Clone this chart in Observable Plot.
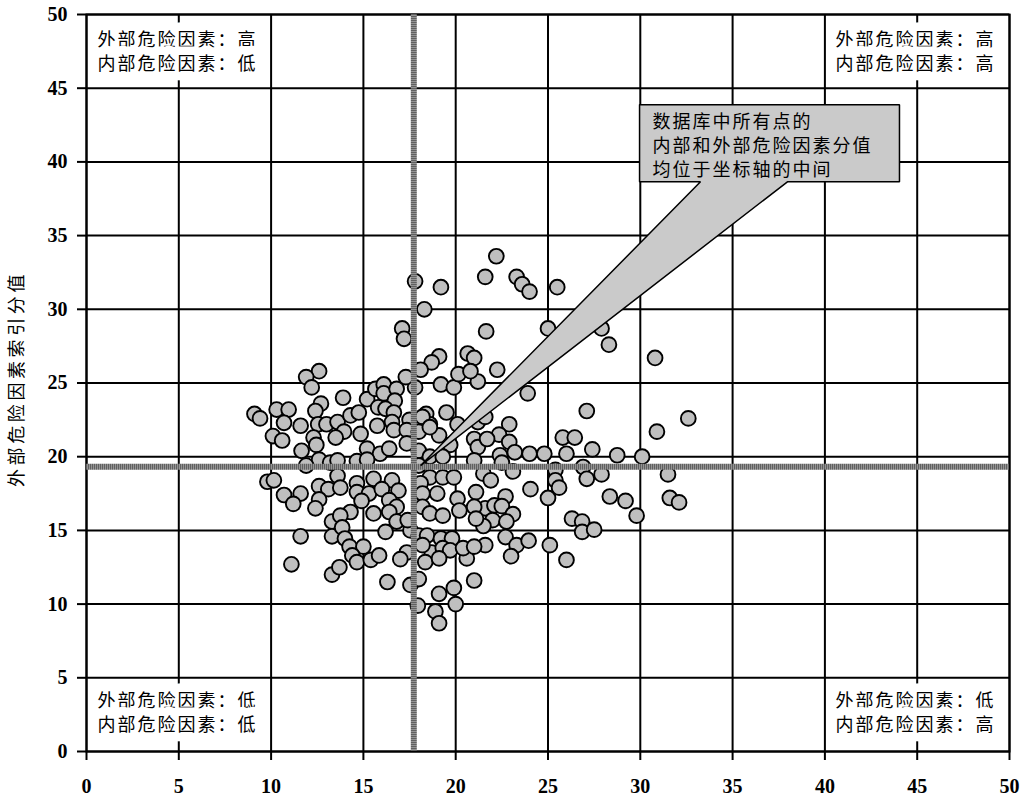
<!DOCTYPE html>
<html><head><meta charset="utf-8">
<script src="https://cdn.jsdelivr.net/npm/d3@7"></script>
<script src="https://cdn.jsdelivr.net/npm/@observablehq/plot@0.6"></script>
<style>html,body{margin:0;padding:0;background:#fff} svg{display:block}</style>
</head><body><div id="chart"></div>
<script>
// internal risk score (x) and external risk score (y) of each database point
const internalScore = [
  12.6,11.9,12.2,12.7,12.4,10.3,10.95,9.1,9.4,10.7,11.6,12.55,13.0,10.1,10.6,12.3,11.65,12.45,12.6,11.9,13.2,9.8,10.15,10.7,11.6,11.2,11.6,11.1,12.6,13.1,12.6,12.4,13.3,13.3,13.3,
  13.9,15.2,15.65,16.1,16.1,16.8,16.7,15.8,16.2,16.65,17.8,19.2,19.9,21.2,18.4,19.5,13.6,14.3,14.75,15.75,16.55,16.65,17.5,18.6,18.2,20.1,21.2,13.95,13.5,14.85,17.35,17.35,18.0,19.1,18.6,21.0,21.2,19.7,15.2,15.9,16.4,14.65,15.2,13.6,18.0,18.6,19.3,18.0,21.0,18.6,19.3,19.9,15.55,16.55,14.65,13.6,18.1,
  17.8,19.2,18.3,17.1,17.2,19.1,18.7,18.1,17.3,20.15,22.2,21.6,23.3,23.6,24.0,25.5,21.65,25.0,27.9,28.3,30.8,20.65,21.0,22.25,20.8,
  23.9,27.1,32.6,22.9,21.6,22.35,25.8,26.45,30.9,
  21.7,22.9,27.4,22.4,23.2,24.0,24.8,26.0,28.75,30.1,22.5,23.1,21.5,21.9,25.4,25.4,25.6,26.9,27.1,27.9,31.5,24.05,25.0,28.35,29.2,29.8,31.6,32.1,22.7,21.6,22.1,22.5,23.1,22.0,22.75,21.5,22.7,23.3,23.95,25.1,26.0,26.3,26.85,26.85,27.5,21.6,23.0,
  21.1,21.0,21.1,20.6,
  13.75,14.65,15.3,16.0,16.9,18.2,19.0,14.9,16.4,16.8,20.1,20.2,18.2,18.6,19.3,14.3,13.75,15.55,16.4,16.8,13.85,16.2,17.55,18.0,18.45,19.2,19.8,14.0,14.25,15.0,14.4,14.65,15.4,15.85,17.35,17.0,18.7,19.3,19.7,20.4,21.0,18.35,19.1,13.7,16.3,17.55,21.0,
  17.4,18.2,18.0,
  19.1,19.9,18.9,20.0,19.1,17.95
];
const externalScore = [
  25.8,25.4,24.7,23.6,23.1,23.2,23.2,22.9,22.6,22.3,22.1,22.2,22.2,21.4,21.1,21.3,20.4,20.8,19.8,19.4,19.6,18.3,18.4,17.4,17.5,16.8,14.6,12.7,18.0,17.8,17.1,16.5,15.6,14.6,12.0,
  24.0,23.9,24.6,24.9,24.3,24.6,23.8,23.35,23.25,23.0,24.7,24.9,24.7,25.1,22.9,23.0,22.35,22.8,23.0,22.1,22.35,21.8,22.5,22.2,22.7,22.2,22.35,21.7,21.3,21.55,21.8,20.9,21.7,21.45,22.0,21.2,20.65,20.8,20.55,20.2,20.55,19.7,19.8,19.75,20.4,20.0,20.0,19.4,19.75,18.6,18.6,18.6,18.5,18.4,18.2,18.7,18.2,
  31.9,31.5,30.0,28.7,28.0,26.8,26.4,25.9,25.4,25.6,33.6,32.2,32.2,31.7,31.2,31.5,28.5,28.7,28.7,27.6,26.7,27.0,26.7,25.9,25.8,
  24.3,23.1,22.6,22.2,22.7,21.5,21.3,21.3,21.7,
  21.2,21.0,20.5,20.1,20.3,20.2,20.2,20.2,20.1,20.0,19.6,19.0,18.85,18.4,19.1,18.4,17.9,19.3,18.5,18.8,18.8,17.8,17.2,17.3,17.0,16.0,17.2,16.9,17.3,16.5,16.7,16.65,16.1,15.7,15.6,15.3,14.55,14.0,14.3,14.0,13.0,15.8,15.6,14.9,15.05,14.0,13.25,
  17.6,16.6,15.8,13.1,
  17.9,17.6,17.5,17.8,17.7,17.5,17.5,17.0,17.05,16.6,17.15,16.35,16.6,16.15,16.0,16.25,16.0,16.15,16.25,15.6,15.2,14.9,15.0,14.65,14.65,14.45,14.45,14.45,13.9,13.9,13.3,12.85,13.0,13.3,13.5,13.05,13.5,13.8,13.65,13.8,13.9,12.85,13.1,12.5,11.5,11.3,11.6,
  15.7,14.0,11.7,
  10.7,11.1,9.5,10.0,8.7,9.9
];
const xTicks = [0,5,10,15,20,25,30,35,40,45,50];
const yTicks = [0,5,10,15,20,25,30,35,40,45,50];
const medianInternal = [17.73];
const medianExternal = [19.31];
const yTitle = "外部危险因素索引分值";
const labelTopLeft = ["外部危险因素：高", "内部危险因素：低"];
const labelTopRight = ["外部危险因素：高", "内部危险因素：高"];
const labelBottomLeft = ["外部危险因素：低", "内部危险因素：低"];
const labelBottomRight = ["外部危险因素：低", "内部危险因素：高"];
const calloutLines = ["数据库中所有点的", "内部和外部危险因素分值", "均位于坐标轴的中间"];
// callout outline in data units: box with a wedge pointing at the medians' crossing
const calloutX = [29.96, 44.04, 44.04, 37.97, 18.1, 33.26, 29.96, 29.96];
const calloutY = [43.87, 43.87, 38.65, 38.65, 19.4, 38.65, 38.65, 43.87];
const calloutTextAt = {x: 30.66, y: 41.2};

const points = internalScore.map((x, i) => ({x, y: externalScore[i]}));
const callout = calloutX.map((x, i) => ({x, y: calloutY[i]}));

const cjk = "Noto Sans CJK SC";
const quad = (lines, frameAnchor, dx, dy) => Plot.text([lines.join("\n")], {
  frameAnchor, dx, dy, textAnchor: "start", lineAnchor: "middle", lineHeight: 1.333,
  fontFamily: cjk, fontSize: 18, fontWeight: "normal", fill: "black",
  stroke: "white", strokeWidth: 17, strokeLinejoin: "round", paintOrder: "stroke"
});

const plot = Plot.plot({
  width: 1023, height: 798,
  marginLeft: 86, marginRight: 14, marginTop: 14, marginBottom: 47,
  style: {fontFamily: "Liberation Serif", fontSize: "20px", fontWeight: "bold", background: "white", color: "black"},
  x: {domain: [0, 50], ticks: xTicks, label: null},
  y: {domain: [0, 50], ticks: yTicks, label: null},
  marks: [
    Plot.gridX(xTicks, {stroke: "black", strokeOpacity: 1, strokeWidth: 2}),
    Plot.gridY(yTicks, {stroke: "black", strokeOpacity: 1, strokeWidth: 2}),
    Plot.frame({stroke: "black", strokeWidth: 2}),
    Plot.axisX(xTicks, {tickSize: 9, tickPadding: 18, strokeWidth: 2, fontSize: 20, fontWeight: "bold", label: null, tickFormat: d => String(d)}),
    Plot.axisY(yTicks, {tickSize: 9, tickPadding: 10, strokeWidth: 2, fontSize: 20, fontWeight: "bold", label: null, tickFormat: d => String(d)}),
    Plot.dot(points, {x: "x", y: "y", r: 7.4, fill: "url(#stipDot)", stroke: "black", strokeWidth: 1.9}),
    Plot.ruleX(medianInternal, {stroke: "url(#stipLine)", strokeWidth: 6}),
    Plot.ruleY(medianExternal, {stroke: "url(#stipLine)", strokeWidth: 6}),
    quad(labelTopLeft, "top-left", 11, 36),
    quad(labelTopRight, "top-right", -174, 36),
    quad(labelBottomLeft, "bottom-left", 11, -40),
    quad(labelBottomRight, "bottom-right", -174, -40),
    Plot.line(callout, {x: "x", y: "y", fill: "url(#stipBox)", stroke: "black", strokeWidth: 1.5, strokeLinejoin: "miter"}),
    Plot.text([calloutTextAt], {x: "x", y: "y", text: () => calloutLines.join("\n"), textAnchor: "start", lineAnchor: "middle", lineHeight: 1.32, fontFamily: cjk, fontSize: 18, fontWeight: "normal", fill: "black"}),
    Plot.text([yTitle], {frameAnchor: "left", rotate: -90, dx: -69, dy: -4, textAnchor: "middle", lineAnchor: "middle", fontFamily: cjk, fontSize: 18, fontWeight: "normal", fill: "black"})
  ]
});

const svgEl = plot.tagName.toLowerCase() === "svg" ? plot : plot.querySelector("svg");
const svg = d3.select(svgEl);
const defs = svg.insert("defs", ":first-child");
function pattern(id, bg, dots) {
  const p = defs.append("pattern").attr("id", id).attr("width", 2).attr("height", 2).attr("patternUnits", "userSpaceOnUse");
  p.append("rect").attr("width", 2).attr("height", 2).attr("fill", bg);
  dots.forEach(([x, y, c]) => p.append("rect").attr("x", x).attr("y", y).attr("width", 1).attr("height", 1).attr("fill", c));
}
pattern("stipDot", "#f6f6f6", [[0, 0, "#1a1a1a"]]);
pattern("stipBox", "#f6f6f6", [[0, 0, "#444"]]);
pattern("stipLine", "#b0b0b0", [[0, 0, "#111"], [1, 1, "#777"]]);

svg.selectAll("text").each(function() {
  const t = d3.select(this);
  if (/[\u4e00-\u9fff]/.test(this.textContent)) {
    const isTitle = this.textContent.replace(/\s/g, "") === yTitle;
    t.attr("letter-spacing", isTitle ? "3.6px" : "2px");
  } else {
    t.style("font-family", "'Liberation Serif', 'Times New Roman', serif")
     .style("font-weight", "bold")
     .style("font-size", "20px");
  }
});

document.getElementById("chart").append(plot);
</script>
</body></html>
